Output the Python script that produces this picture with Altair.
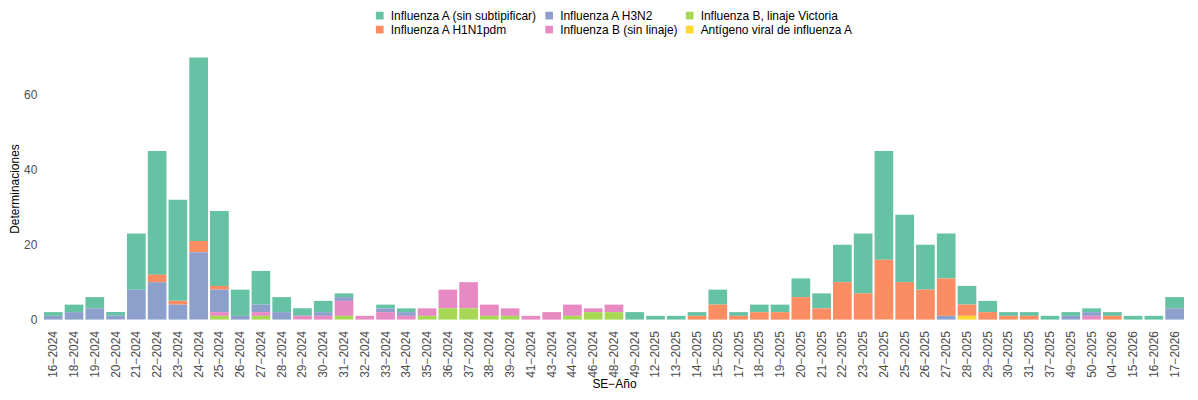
import altair as alt
import pandas as pd

categories = ["16-2024","18-2024","19-2024","20-2024","21-2024","22-2024","23-2024","24-2024","25-2024","26-2024",
              "27-2024","28-2024","29-2024","30-2024","31-2024","32-2024","33-2024","34-2024","35-2024","36-2024",
              "37-2024","38-2024","39-2024","41-2024","43-2024","44-2024","46-2024","48-2024","49-2024",
              "12-2025","13-2025","14-2025","15-2025","17-2025","18-2025","19-2025","20-2025","21-2025","22-2025",
              "23-2025","24-2025","25-2025","26-2025","27-2025","28-2025","29-2025","30-2025","31-2025","37-2025",
              "49-2025","50-2025","04-2026","15-2026","16-2026","17-2026"]
labels = [c.replace("-", "\u2212") for c in categories]

a_sin = [1,2,3,1,15,33,27,49,20,7, 9,4,2,3,1,0,1,1,0,0, 0,0,0,0,0,0,0,0,2,
         1,1,1,4,1,2,2,5,4,10, 16,29,18,12,12,5,3,1,1,1, 1,1,1,1,1,3]
h1n1 = [0,0,0,0,0,2,1,3,1,0, 0,0,0,0,0,0,0,0,0,0, 0,0,0,0,0,0,0,0,0,
        0,0,1,4,1,2,2,6,3,10, 7,16,10,8,10,3,2,1,1,0, 0,0,1,0,0,0]
h3n2 = [1,2,3,1,8,10,4,18,6,1, 2,2,0,1,1,0,1,1,0,0, 0,0,0,0,0,0,0,0,0,
        0,0,0,0,0,0,0,0,0,0, 0,0,0,0,1,0,0,0,0,0, 1,1,0,0,0,3]
b_sin = [0,0,0,0,0,0,0,0,1,0, 1,0,1,1,4,1,2,1,2,5, 7,3,2,1,2,3,1,2,0,
         0,0,0,0,0,0,0,0,0,0, 0,0,0,0,0,0,0,0,0,0, 0,1,0,0,0,0]
b_vic = [0,0,0,0,0,0,0,0,1,0, 1,0,0,0,1,0,0,0,1,3, 3,1,1,0,0,1,2,2,0,
         0,0,0,0,0,0,0,0,0,0, 0,0,0,0,0,0,0,0,0,0, 0,0,0,0,0,0]
antig = [0,0,0,0,0,0,0,0,0,0, 0,0,0,0,0,0,0,0,0,0, 0,0,0,0,0,0,0,0,0,
         0,0,0,0,0,0,0,0,0,0, 0,0,0,0,0,1,0,0,0,0, 0,0,0,0,0,0]

series_names = ["Influenza A (sin subtipificar)", "Influenza A H1N1pdm", "Influenza A H3N2",
                "Influenza B (sin linaje)", "Influenza B, linaje Victoria", "Antígeno viral de influenza A"]
series_values = [a_sin, h1n1, h3n2, b_sin, b_vic, antig]
series_colors = ["#66C2A5", "#FC8D62", "#8DA0CB", "#E78AC3", "#A6D854", "#FFD92F"]

rows = []
for i, (name, vals) in enumerate(zip(series_names, series_values)):
    for lab, v in zip(labels, vals):
        if v > 0:
            rows.append({"se": lab, "tipo": name, "n": v, "rank": len(series_names) - 1 - i})
df = pd.DataFrame(rows)

FONT = "Liberation Sans"

chart = alt.Chart(df).mark_bar().encode(
    x=alt.X("se:N", sort=labels, title="SE\u2212Año",
            scale=alt.Scale(paddingInner=0.1, paddingOuter=0.05),
            axis=alt.Axis(labelAngle=-90, labelPadding=11, titlePadding=1, ticks=False, domain=False,
                          labelFontSize=12, labelColor="#4D4D4D", titleFontSize=12,
                          titleFontWeight="normal", titleColor="#000000", labelFont=FONT, titleFont=FONT)),
    y=alt.Y("sum(n):Q", title="Determinaciones",
            scale=alt.Scale(domain=[0, 70], nice=False),
            axis=alt.Axis(values=[0, 20, 40, 60], grid=False, ticks=False, domain=False, labelPadding=6,
                          titlePadding=2, labelFontSize=12, labelColor="#4D4D4D", titleFontSize=12,
                          titleFontWeight="normal", titleColor="#000000", labelFont=FONT, titleFont=FONT)),
    color=alt.Color("tipo:N", scale=alt.Scale(domain=series_names, range=series_colors),
                    legend=alt.Legend(title=None, orient="none", legendX=332, legendY=-48, columns=3,
                                      symbolType="square", symbolSize=60, symbolStrokeWidth=0,
                                      labelFontSize=12, labelFont=FONT, labelColor="#000000",
                                      labelOffset=5, columnPadding=5, rowPadding=2, padding=0)),
    order=alt.Order("rank:Q", sort="ascending"),
).properties(
    width=1146, height=263,
    autosize=alt.AutoSizeParams(type="none"),
    padding={"left": 35, "top": 49, "right": 5, "bottom": 72},
).configure_view(stroke=None)

chart.save("out.html", embed_options={"renderer": "svg", "actions": False})
